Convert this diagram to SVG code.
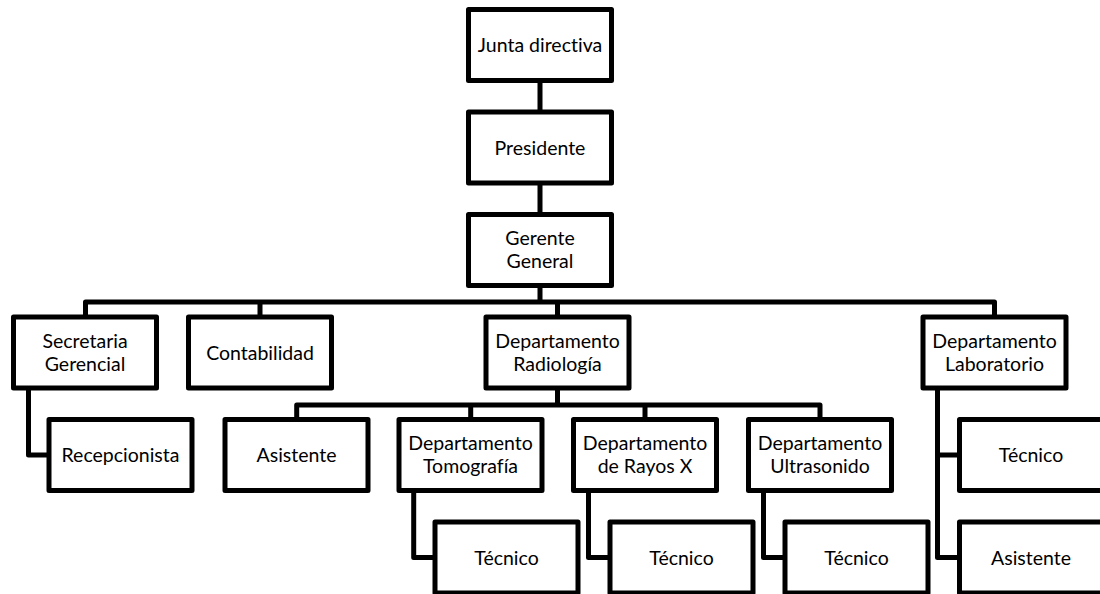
<svg xmlns="http://www.w3.org/2000/svg" width="1100" height="594" viewBox="0 0 1100 594">
<style>
.box rect{fill:#fff;stroke:#000;stroke-width:5;stroke-linejoin:round}
.box text{font-family:Lato,"Liberation Sans",sans-serif;font-size:19.5px;fill:#000;text-anchor:middle;font-variant-ligatures:none}
#connectors path{fill:none;stroke:#000;stroke-width:5;stroke-linejoin:round}
</style>
<rect width="1100" height="594" fill="#fff"/>
<g id="connectors">
<path d="M540,80 V112 M540,183 V214.5 M540,285 V302"/>
<path d="M85.5,317 V302 H994.5 V317 M260,302 V317 M557.5,302 V317"/>
<path d="M557.5,388 V405 M296.7,419.5 V405 H820 V419.5 M470.7,405 V419.5 M645,405 V419.5"/>
<path d="M28.5,388 V455 H49"/>
<path d="M413.7,490.5 V557.5 H435"/>
<path d="M588.5,490.5 V557.5 H610"/>
<path d="M763.5,490.5 V557.5 H785"/>
<path d="M937.5,388 V557.5 H959.5 M937.5,455 H959.5"/>
</g>
<g id="junta" class="box"><rect x="468.5" y="9.5" width="143" height="71"/><text x="540" y="52">Junta directiva</text></g>
<g id="presidente" class="box"><rect x="468.5" y="112" width="143" height="71"/><text x="540" y="154.5">Presidente</text></g>
<g id="gerente" class="box"><rect x="468.5" y="214.5" width="143" height="71"/><text x="540" y="245">Gerente</text><text x="540" y="268">General</text></g>
<g id="secretaria" class="box"><rect x="13.5" y="317" width="143" height="71"/><text x="85" y="347.5">Secretaria</text><text x="85" y="370.5">Gerencial</text></g>
<g id="contabilidad" class="box"><rect x="188.5" y="317" width="143" height="71"/><text x="260" y="359.5">Contabilidad</text></g>
<g id="radiologia" class="box"><rect x="486" y="317" width="143" height="71"/><text x="557.5" y="347.5">Departamento</text><text x="557.5" y="370.5">Radiología</text></g>
<g id="laboratorio" class="box"><rect x="923" y="317" width="143" height="71"/><text x="994.5" y="347.5">Departamento</text><text x="994.5" y="370.5">Laboratorio</text></g>
<g id="recepcionista" class="box"><rect x="49" y="419.5" width="143" height="71"/><text x="120.5" y="462">Recepcionista</text></g>
<g id="asistente-rad" class="box"><rect x="225" y="419.5" width="143" height="71"/><text x="296.5" y="462">Asistente</text></g>
<g id="tomografia" class="box"><rect x="399" y="419.5" width="143" height="71"/><text x="470.5" y="450">Departamento</text><text x="470.5" y="473">Tomografía</text></g>
<g id="rayosx" class="box"><rect x="573.5" y="419.5" width="143" height="71"/><text x="645" y="450">Departamento</text><text x="645" y="473">de Rayos X</text></g>
<g id="ultrasonido" class="box"><rect x="748.5" y="419.5" width="143" height="71"/><text x="820" y="450">Departamento</text><text x="820" y="473">Ultrasonido</text></g>
<g id="tecnico-lab" class="box"><rect x="959.5" y="419.5" width="143" height="71"/><text x="1031" y="462">Técnico</text></g>
<g id="tecnico-tomo" class="box"><rect x="435" y="522" width="143" height="71"/><text x="506.5" y="564.5">Técnico</text></g>
<g id="tecnico-rayos" class="box"><rect x="610" y="522" width="143" height="71"/><text x="681.5" y="564.5">Técnico</text></g>
<g id="tecnico-ultra" class="box"><rect x="785" y="522" width="143" height="71"/><text x="856.5" y="564.5">Técnico</text></g>
<g id="asistente-lab" class="box"><rect x="959.5" y="522" width="143" height="71"/><text x="1031" y="564.5">Asistente</text></g>
</svg>
